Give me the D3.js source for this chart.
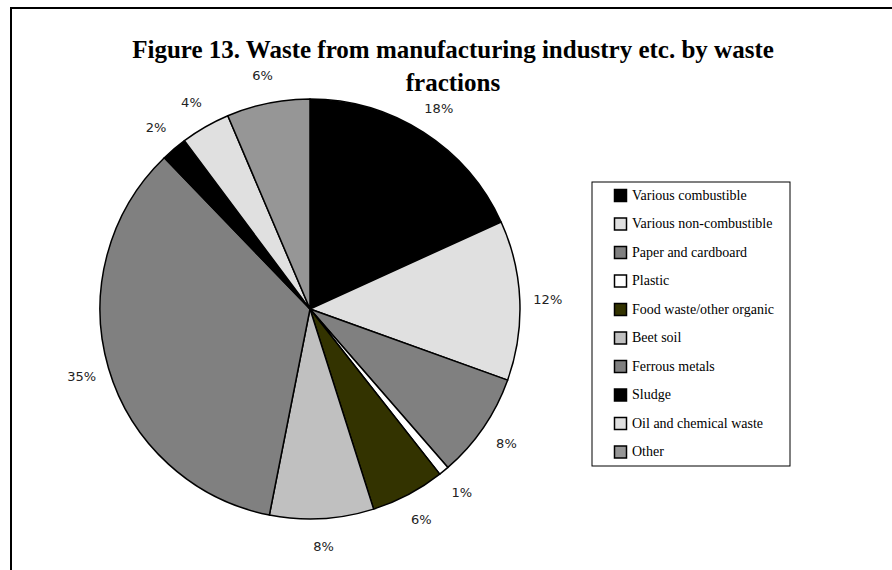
<!DOCTYPE html>
<html>
<head>
<meta charset="utf-8">
<script src="https://cdn.jsdelivr.net/npm/d3@7"></script>
<style>
  html, body { margin: 0; padding: 0; background: #fff; }
  svg { display: block; }
</style>
</head>
<body>
<svg id="chart" width="892" height="570"></svg>
<script>
// ---- data ----
const categories = [
  "Various combustible",
  "Various non-combustible",
  "Paper and cardboard",
  "Plastic",
  "Food waste/other organic",
  "Beet soil",
  "Ferrous metals",
  "Sludge",
  "Oil and chemical waste",
  "Other"
];
const shares = [18.2, 12.3, 8.1, 0.8, 5.7, 8.0, 34.7, 2.0, 3.8, 6.4];
const colors = ["#000000", "#e0e0e0", "#808080", "#ffffff", "#333300",
                "#c0c0c0", "#808080", "#000000", "#e0e0e0", "#969696"];
const titleLines = ["Figure 13. Waste from manufacturing industry etc. by waste", "fractions"];

// ---- layout ----
const svg = d3.select("#chart");
const cx = 310, cy = 309, R = 210, labelR = 238;

// outer frame
svg.append("rect")
  .attr("x", 11).attr("y", 8)
  .attr("width", 900).attr("height", 600)
  .attr("fill", "none").attr("stroke", "#000").attr("stroke-width", 2);

// title
const title = svg.append("text")
  .attr("text-anchor", "middle")
  .attr("font-family", "'Liberation Serif', 'Times New Roman', serif")
  .attr("font-weight", "bold")
  .attr("font-size", 25)
  .attr("fill", "#000");
titleLines.forEach((t, i) => {
  title.append("tspan").attr("x", 453).attr("y", 58 + i * 33).text(t);
});

// pie
const data = categories.map((c, i) => ({ name: c, value: shares[i], color: colors[i] }));
const pie = d3.pie().value(d => d.value).sort(null);
const arcs = pie(data);
const arc = d3.arc().innerRadius(0).outerRadius(R);
const labelArc = d3.arc().innerRadius(labelR).outerRadius(labelR);

const g = svg.append("g").attr("transform", `translate(${cx},${cy})`);
g.selectAll("path.slice")
  .data(arcs)
  .join("path")
  .attr("class", "slice")
  .attr("d", arc)
  .attr("fill", d => d.data.color)
  .attr("stroke", "#000")
  .attr("stroke-width", 1.5)
  .attr("stroke-linejoin", "round");

g.selectAll("text.lbl")
  .data(arcs)
  .join("text")
  .attr("class", "lbl")
  .attr("transform", d => `translate(${labelArc.centroid(d)})`)
  .attr("text-anchor", "middle")
  .attr("dy", "0.35em")
  .attr("font-family", "'DejaVu Sans', sans-serif")
  .attr("font-size", 13)
  .attr("fill", "#222")
  .text(d => Math.round(d.data.value) + "%");

// legend
const lx = 592, ly = 182, lw = 198, lh = 284, rowH = 28.5;
svg.append("rect")
  .attr("x", lx).attr("y", ly).attr("width", lw).attr("height", lh)
  .attr("fill", "#fff").attr("stroke", "#000").attr("stroke-width", 1);

const items = svg.append("g").selectAll("g")
  .data(data)
  .join("g")
  .attr("transform", (d, i) => `translate(${lx + 22},${ly + 13 + i * rowH})`);
items.append("rect")
  .attr("x", 0.5).attr("y", -5.5).attr("width", 12).attr("height", 12)
  .attr("fill", d => d.color).attr("stroke", "#000").attr("stroke-width", 1.5);
items.append("text")
  .attr("x", 18).attr("y", 0).attr("dy", "0.35em")
  .attr("font-family", "'Liberation Serif', 'Times New Roman', serif")
  .attr("font-size", 14)
  .attr("fill", "#000")
  .text(d => d.name);
</script>
</body>
</html>
